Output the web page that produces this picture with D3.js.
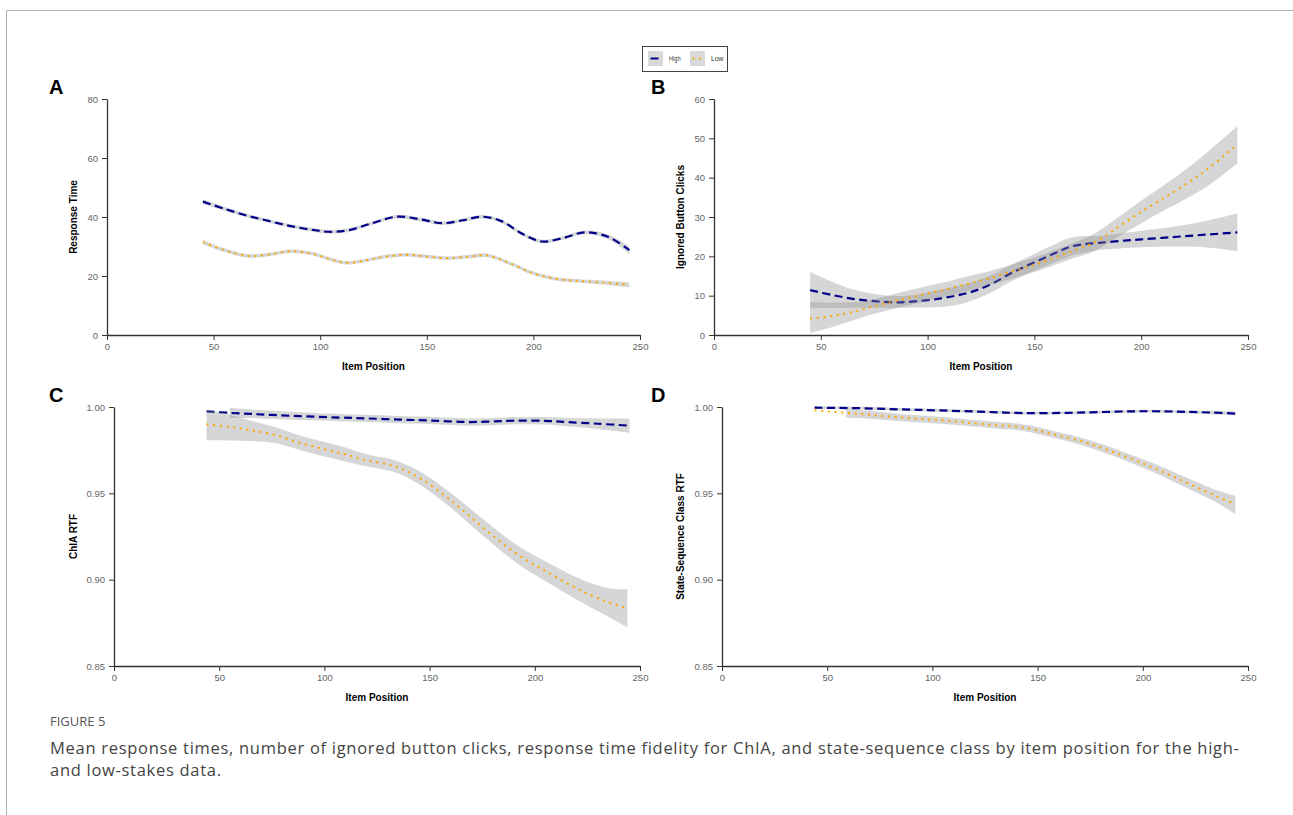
<!DOCTYPE html>
<html>
<head>
<meta charset="utf-8">
<script src="https://cdn.jsdelivr.net/npm/d3@7"></script>
<style>
  body { margin: 0; background: #fff; }
  svg { display: block; }
</style>
</head>
<body>
<div id="chart"></div>
<script>
// Item positions on the x axis, shared by all four panels.
const xTicks = [0, 50, 100, 150, 200, 250];

// Each row: [item position, smoothed mean, lower CI, upper CI]
// A: Response Time
const aHigh = [[45,45.2,44.4,46.0],[55,42.8,42.1,43.5],[65,40.6,40.0,41.2],[75,38.8,38.2,39.4],[85,37.1,36.5,37.7],
  [95,35.8,35.2,36.4],[104,35.0,34.4,35.6],[113,35.5,34.9,36.1],[124,37.8,37.2,38.4],[136,40.1,39.5,40.7],
  [147,39.2,38.6,39.8],[157,37.9,37.3,38.5],[167,38.9,38.3,39.5],[176,40.1,39.5,40.7],[185,38.6,38.0,39.2],
  [195,34.2,33.6,34.8],[204,31.7,31.1,32.3],[214,32.9,32.3,33.5],[224,34.8,34.2,35.4],[235,33.3,32.5,34.1],
  [245,28.8,27.6,30.0]];
const aLow = [[45,31.5,30.8,32.2],[55,28.8,28.2,29.4],[66,26.8,26.2,27.4],[76,27.3,26.7,27.9],[86,28.4,27.8,29.0],
  [96,27.6,27.0,28.2],[105,25.6,25.0,26.2],[112,24.5,23.9,25.1],[120,25.1,24.5,25.7],[130,26.5,25.9,27.1],
  [140,27.2,26.6,27.8],[150,26.6,26.0,27.2],[160,26.0,25.4,26.6],[170,26.6,26.0,27.2],[178,27.0,26.4,27.6],
  [188,24.6,24.0,25.2],[200,20.9,20.3,21.5],[210,19.1,18.5,19.7],[220,18.4,17.8,19.0],[232,17.8,17.1,18.5],
  [245,17.0,16.1,17.9]];

// B: Ignored Button Clicks
const bHigh = [[45,11.4,6.9,16.0],[55,10.2,6.9,13.6],[65,9.2,6.9,11.6],[75,8.6,6.9,10.4],[85,8.3,6.9,9.9],
  [95,8.6,7.0,10.3],[106,9.3,7.1,11.5],[115,10.2,7.8,12.6],[123,11.4,9.2,13.8],[131,13.3,11.2,15.5],
  [139,15.7,13.6,17.8],[146,17.5,15.4,19.6],[153,19.2,17.0,21.4],[160,20.9,18.6,23.2],[166,22.3,19.9,24.6],
  [172,23.0,20.8,25.1],[180,23.4,21.6,25.2],[190,23.9,22.0,25.8],[200,24.3,22.3,26.5],[215,24.9,22.5,27.5],
  [230,25.5,22.3,29.0],[245,26.1,21.3,30.9]];
const bLow = [[45,4.2,0.5,8.3],[55,4.8,2.0,8.2],[65,5.9,3.7,8.3],[75,7.3,5.4,9.1],[87,8.9,7.0,10.8],
  [97,10.2,8.3,12.1],[108,11.5,9.7,13.4],[118,12.9,11.0,14.8],[128,14.3,12.5,16.1],[138,15.9,14.1,17.7],
  [150,17.8,16.0,19.7],[160,19.8,17.9,21.7],[170,21.8,19.8,23.8],[178,23.5,21.3,25.7],[188,27.0,24.6,29.4],
  [198,30.6,27.8,33.4],[208,34.0,30.9,37.1],[220,38.0,34.3,41.7],[232,42.6,38.2,47.0],[245,48.4,43.6,53.1]];

// C: ChIA RTF (high band starts a bit later than its line)
const cHigh = [[44,0.9975,null,null],[55,0.9966,0.9937,0.9995],[65,0.9960,0.9936,0.9985],[75,0.9954,0.9931,0.9978],
  [88,0.9947,0.9925,0.9970],[107,0.9939,0.9918,0.9960],[120,0.9934,0.9913,0.9955],[136,0.9927,0.9906,0.9948],
  [150,0.9922,0.9901,0.9943],[168,0.9913,0.9892,0.9934],[180,0.9916,0.9895,0.9937],[191,0.9921,0.9900,0.9942],
  [205,0.9920,0.9898,0.9942],[215,0.9913,0.9888,0.9938],[230,0.9903,0.9872,0.9934],[245,0.9892,0.9850,0.9933]];
const cLow = [[44,0.9900,0.9807,0.9985],[55,0.9885,0.9806,0.9955],[65,0.9866,0.9803,0.9921],[76,0.9840,0.9793,0.9886],
  [88,0.9794,0.9753,0.9836],[100,0.9755,0.9713,0.9797],[110,0.9725,0.9684,0.9766],[120,0.9692,0.9657,0.9727],
  [130,0.9668,0.9633,0.9703],[137,0.9640,0.9605,0.9676],[147,0.9576,0.9537,0.9615],[160,0.9460,0.9418,0.9502],
  [175,0.9306,0.9258,0.9354],[191,0.9152,0.9100,0.9204],[207,0.9036,0.8978,0.9094],[223,0.8930,0.8863,0.8997],
  [235,0.8870,0.8785,0.8950],[244,0.8835,0.8724,0.8944]];

// D: State-Sequence Class RTF (low band starts later)
const dHigh = [[44,0.9996,0.9988,1.0004],[65,0.9993,0.9985,1.0001],[85,0.9986,0.9978,0.9994],[104,0.9980,0.9972,0.9988],
  [125,0.9972,0.9964,0.9980],[143,0.9965,0.9957,0.9973],[164,0.9966,0.9958,0.9974],[180,0.9971,0.9963,0.9979],
  [196,0.9975,0.9967,0.9983],[210,0.9975,0.9967,0.9983],[220,0.9972,0.9964,0.9980],[232,0.9968,0.9958,0.9978],
  [244,0.9962,0.9950,0.9974]];
const dLow = [[44,0.9981,null,null],[59,0.9966,0.9938,0.9992],[70,0.9955,0.9932,0.9978],[85,0.9939,0.9918,0.9960],
  [104,0.9923,0.9903,0.9943],[116,0.9910,0.9891,0.9929],[130,0.9895,0.9876,0.9914],[140,0.9886,0.9867,0.9905],
  [148,0.9870,0.9850,0.9890],[156,0.9846,0.9826,0.9866],[172,0.9797,0.9776,0.9818],[188,0.9730,0.9707,0.9753],
  [204,0.9653,0.9628,0.9678],[219,0.9572,0.9543,0.9601],[235,0.9483,0.9447,0.9519],[244,0.9437,0.9379,0.9485]];

const rtTicks = [0, 20, 40, 60, 80];
const clickTicks = [0, 10, 20, 30, 40, 50, 60];
const rtfTicks = [0.85, 0.90, 0.95, 1.00];

const groups = ["High", "Low"];
const colors = { High: "#00008b", Low: "#ffa500" };
const dashes = { High: "8,4.5", Low: "2,4.7" };

const width = 1293, height = 815;
const font = "'Liberation Sans', Arial, sans-serif";

const svg = d3.select("#chart").append("svg")
    .attr("width", width)
    .attr("height", height);

svg.append("rect").attr("width", width).attr("height", height).attr("fill", "#fff");

// frame of the figure (left and top edge)
svg.append("path")
    .attr("d", "M6.5,815V10.5H1293")
    .attr("fill", "none")
    .attr("stroke", "#b0b0b0");

const panels = [
    { label: "A", left: 107, right: 640, top: 99, bottom: 335, domain: [0, 80], ticks: rtTicks,
      fmt: d3.format("d"), title: "Response Time", titleX: 73, high: aHigh, low: aLow },
    { label: "B", left: 714, right: 1248, top: 99, bottom: 335, domain: [0, 60], ticks: clickTicks,
      fmt: d3.format("d"), title: "Ignored Button Clicks", titleX: 680, high: bHigh, low: bLow },
    { label: "C", left: 114, right: 640, top: 407, bottom: 666, domain: [0.85, 1.0], ticks: rtfTicks,
      fmt: d3.format(".2f"), title: "ChIA RTF", titleX: 73, high: cHigh, low: cLow },
    { label: "D", left: 722, right: 1248, top: 407, bottom: 666, domain: [0.85, 1.0], ticks: rtfTicks,
      fmt: d3.format(".2f"), title: "State-Sequence Class RTF", titleX: 680, high: dHigh, low: dLow }
];

panels.forEach(p => {
    const x = d3.scaleLinear().domain([0, 250]).range([p.left, p.right]);
    const y = d3.scaleLinear().domain(p.domain).range([p.bottom, p.top]);
    const g = svg.append("g");

    // bands and lines, high group first
    groups.forEach(grp => {
        const rows = grp === "High" ? p.high : p.low;
        const area = d3.area()
            .defined(d => d[2] != null)
            .x(d => x(d[0]))
            .y0(d => y(d[2]))
            .y1(d => y(d[3]))
            .curve(d3.curveCatmullRom);
        g.append("path")
            .attr("d", area(rows))
            .attr("fill", "#8c8c8c")
            .attr("fill-opacity", 0.36);

        const line = d3.line()
            .x(d => x(d[0]))
            .y(d => y(d[1]))
            .curve(d3.curveCatmullRom);
        g.append("path")
            .attr("d", line(rows))
            .attr("fill", "none")
            .attr("stroke", colors[grp])
            .attr("stroke-width", grp === "High" ? 2.2 : 2)
            .attr("stroke-dasharray", dashes[grp]);
    });

    const xAxis = g.append("g")
        .attr("transform", `translate(0,${p.bottom})`)
        .call(d3.axisBottom(x).tickValues(xTicks).tickSize(5).tickSizeOuter(0).tickPadding(3));
    const yAxis = g.append("g")
        .attr("transform", `translate(${p.left},0)`)
        .call(d3.axisLeft(y).tickValues(p.ticks).tickFormat(p.fmt).tickSize(5).tickSizeOuter(0).tickPadding(4));

    [xAxis, yAxis].forEach(a => {
        a.select(".domain").attr("stroke", "#333").attr("stroke-width", 1.3);
        a.selectAll(".tick line").attr("stroke", "#333");
        a.selectAll(".tick text")
            .attr("fill", "#666")
            .style("font-family", font)
            .style("font-size", "9.5px");
    });

    g.append("text")
        .attr("x", (p.left + p.right) / 2)
        .attr("y", p.bottom + 35)
        .attr("text-anchor", "middle")
        .style("font-family", font)
        .style("font-size", "10px")
        .style("font-weight", "bold")
        .text("Item Position");

    g.append("text")
        .attr("transform", `translate(${p.titleX + 3.5},${(p.top + p.bottom) / 2}) rotate(-90)`)
        .attr("text-anchor", "middle")
        .style("font-family", font)
        .style("font-size", "10px")
        .style("font-weight", "bold")
        .text(p.title);

    g.append("text")
        .attr("x", p.left < 400 ? 49 : 651)
        .attr("y", p.top - 5)
        .style("font-family", font)
        .style("font-size", "20px")
        .style("font-weight", "bold")
        .text(p.label);
});

// legend
const legend = svg.append("g").attr("transform", "translate(642,46)");
legend.append("rect")
    .attr("x", 0.5).attr("y", 0.5)
    .attr("width", 85).attr("height", 25)
    .attr("fill", "#fff")
    .attr("stroke", "#444");
groups.forEach((grp, i) => {
    const ox = i === 0 ? 6 : 48;
    legend.append("rect")
        .attr("x", ox).attr("y", 5)
        .attr("width", 15).attr("height", 15)
        .attr("fill", "#d9d9d9");
    legend.append("line")
        .attr("x1", ox + 2.5).attr("x2", ox + 12.5)
        .attr("y1", 12.5).attr("y2", 12.5)
        .attr("stroke", colors[grp])
        .attr("stroke-width", 2)
        .attr("stroke-dasharray", dashes[grp]);
    legend.append("text")
        .attr("x", ox + 21)
        .attr("y", 15)
        .attr("textLength", i === 0 ? 11.5 : 12.5)
        .attr("lengthAdjust", "spacingAndGlyphs")
        .style("font-family", font)
        .style("font-size", "7.5px")
        .attr("fill", "#333")
        .text(grp);
});

// caption
const capFont = "'Open Sans', 'Noto Sans', sans-serif";
svg.append("text")
    .attr("x", 50).attr("y", 726)
    .style("font-family", capFont)
    .style("font-size", "13px")
    .attr("fill", "#555")
    .text("FIGURE 5");

const captionLines = [
    "Mean response times, number of ignored button clicks, response time fidelity for ChIA, and state-sequence class by item position for the high-",
    "and low-stakes data."
];
const cap = svg.selectAll(".cap")
    .data(captionLines)
    .enter()
    .append("text")
    .attr("class", "cap")
    .attr("x", 50)
    .attr("y", (d, i) => 754 + i * 22)
    .style("font-family", capFont)
    .style("font-size", "16.5px")
    .attr("fill", "#444")
    .text(d => d);

// spread the caption so the first line ends where the reference wraps
const firstLine = cap.nodes()[0];
const spacing = (1190 - firstLine.getComputedTextLength()) / captionLines[0].length;
cap.style("letter-spacing", `${Math.max(0, spacing).toFixed(2)}px`);
</script>
</body>
</html>
